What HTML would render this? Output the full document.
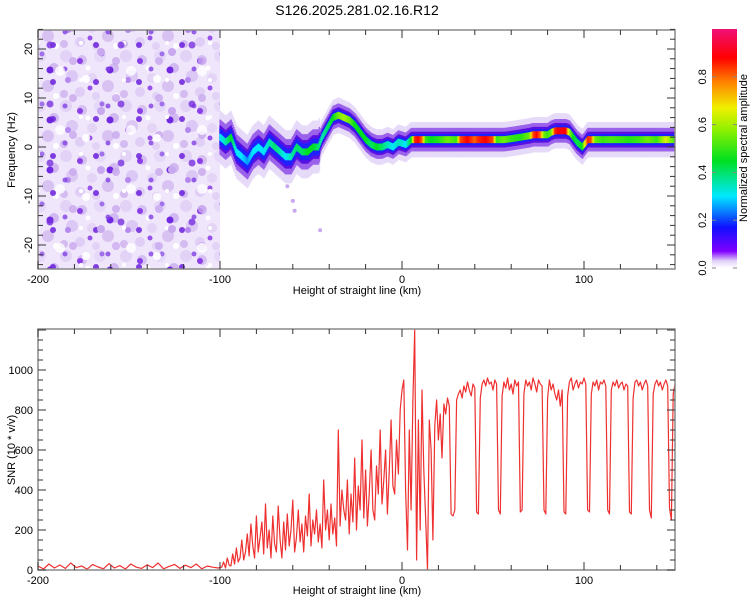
<!DOCTYPE html>
<html><head><meta charset="utf-8"><style>
body{margin:0;background:#fff;}
svg{display:block;font-family:"Liberation Sans",sans-serif;}
</style></head><body>
<svg id="chart" width="750" height="600" viewBox="0 0 750 600">
<defs>
<pattern id="n1" width="60" height="50" patternUnits="userSpaceOnUse">
<rect width="60" height="50" fill="#f0e6fb"/>
<circle cx="6" cy="6" r="6" fill="#e2d2f6"/><circle cx="22" cy="10" r="5" fill="#d6c0f2"/>
<circle cx="40" cy="6" r="6" fill="#e6d8f8"/><circle cx="54" cy="18" r="5" fill="#d2b8f0"/>
<circle cx="12" cy="26" r="6" fill="#dcc8f4"/><circle cx="32" cy="28" r="5" fill="#e4d4f6"/>
<circle cx="48" cy="36" r="6" fill="#d8c2f2"/><circle cx="20" cy="42" r="5" fill="#e0cef6"/>
<circle cx="4" cy="44" r="4" fill="#d4bcf0"/><circle cx="36" cy="46" r="4" fill="#e2d2f6"/>
<circle cx="20" cy="11" r="3" fill="#8a40e6"/><circle cx="50" cy="20" r="3.5" fill="#7028e0"/>
<circle cx="30" cy="38" r="2.5" fill="#9654e8"/><circle cx="8" cy="30" r="3" fill="#b488ee"/>
<circle cx="42" cy="4" r="2.5" fill="#a070ea"/>
<circle cx="28" cy="18" r="2.5" fill="#fff"/><circle cx="56" cy="46" r="3" fill="#fff"/>
</pattern>
<pattern id="n2" width="43" height="37" patternUnits="userSpaceOnUse">
<circle cx="10" cy="8" r="3" fill="#6a20dc" opacity="0.85"/><circle cx="30" cy="24" r="4" fill="#c8a8ee" opacity="0.8"/>
<circle cx="22" cy="32" r="2.5" fill="#8040e4" opacity="0.8"/><circle cx="38" cy="6" r="2" fill="#fff"/>
</pattern>
<pattern id="n3" width="71" height="59" patternUnits="userSpaceOnUse">
<circle cx="15" cy="20" r="4" fill="#fff" opacity="0.9"/><circle cx="50" cy="45" r="3.5" fill="#7830e0" opacity="0.8"/>
<circle cx="60" cy="12" r="5" fill="#fff" opacity="0.8"/><circle cx="30" cy="52" r="4" fill="#c8a8ee"/>
</pattern>
<linearGradient id="cbar" x1="0" y1="1" x2="0" y2="0">
<stop offset="0" stop-color="#ffffff"/><stop offset="0.03" stop-color="#e0d0f8"/>
<stop offset="0.07" stop-color="#8000ff"/><stop offset="0.17" stop-color="#1010ff"/>
<stop offset="0.3" stop-color="#00e8ff"/><stop offset="0.45" stop-color="#00e020"/>
<stop offset="0.58" stop-color="#90f000"/><stop offset="0.67" stop-color="#f0f000"/>
<stop offset="0.78" stop-color="#ff8000"/><stop offset="0.88" stop-color="#ff0000"/>
<stop offset="1" stop-color="#f01078"/>
</linearGradient>
<clipPath id="topclip"><rect x="38" y="30" width="637" height="239"/></clipPath>
<clipPath id="botclip"><rect x="38" y="329" width="637" height="241"/></clipPath>
</defs>
<text x="357" y="15" text-anchor="middle" font-size="14" fill="#000">S126.2025.281.02.16.R12</text>
<g id="topPanel"></g>
<g id="cb"></g>
<g id="botPanel"></g>
</svg>
<script>
// ---- data ----
const ridgeKm   = [-100,-97,-94,-91,-88,-85,-82,-79,-76,-73,-70,-67,-64,-61,-58,-55,-52,-49,-46,-44,-41,-38,-35,-32,-29,-26,-23,-20,-17,-14,-11,-8,-5,-2,2,5,7,9,11,13,16,20,25,30,32,36,40,42,46,50,52,56,60,65,70,72,74,76,78,80,82,84,87,90,92,94,96,99,100,102,104,106,110,115,120,125,130,135,140,145,150];
const ridgeHz   = [2,1,2,-1,-2,-3,-1,0,-1,1,0,-1,-2,-2,0,-1,-1,0,0,2,4,6,6.5,6,5.5,4.5,3,1.5,0.5,0,0,0.5,0,1,0.5,1.5,1.5,1.5,1.5,1.5,1.5,1.5,1.5,1.5,1.5,1.5,1.5,1.5,1.5,1.5,1.5,1.5,1.7,2,2.3,2.5,2.5,2.5,2.5,2.5,3,3.3,3.3,3.3,3,2,1,0,0.5,1.5,1.5,1.5,1.5,1.5,1.5,1.5,1.5,1.5,1.5,1.5,1.5];
const ridgeAmp  = [0.3,0.35,0.45,0.3,0.3,0.25,0.3,0.3,0.3,0.35,0.4,0.35,0.3,0.35,0.4,0.4,0.45,0.45,0.4,0.35,0.4,0.45,0.55,0.6,0.55,0.45,0.45,0.45,0.4,0.45,0.4,0.35,0.3,0.35,0.3,0.45,0.85,0.88,0.8,0.5,0.45,0.48,0.55,0.5,0.82,0.88,0.8,0.85,0.88,0.82,0.5,0.55,0.5,0.48,0.55,0.82,0.88,0.8,0.55,0.5,0.55,0.85,0.9,0.88,0.6,0.45,0.42,0.45,0.6,0.85,0.82,0.55,0.5,0.52,0.5,0.48,0.5,0.55,0.5,0.65,0.5];
const spotKm = [-60,-59,-45,-63];
const spotHz = [-11,-13,-17,-8];
const snrKm = [-200,-197,-194,-191,-188,-185,-182,-179,-176,-173,-170,-167,-164,-161,-158,-155,-152,-149,-146,-143,-140,-137,-134,-131,-128,-125,-122,-119,-116,-113,-110,-107,-104,-101,
-99,-98,-97,-96,-95,-94,-93,-92,-91,-90,-89,-88,-87,-86,-85,-84,-83,-82,-81,-80,-79,-78,-77,-76,-75,-74,-73,-72,-71,-70,-69,-68,-67,-66,-65,-64,-63,-62,-61,-60,-59,-58,-57,-56,-55,-54,-53,-52,-51,-50,-49,-48,-47,-46,-45,-44,-43,-42,-41,-40,-39,-38,-37,-36,-35,-34,-33,-32,-31,-30,-29,-28,-27,-26,-25,-24,-23,-22,-21,-20,-19,-18,-17,-16,-15,-14,-13,-12,-11,-10,-9,-8,-7,-6,-5,-4,-3,-2,-1,0,1,2,3,4,5,6,7,8,9,10,11,12,13,14,15,16,17,18,19,20,21,
22,23,24,25,26,27,28,29,30,31,32,33,34,35,36,37,38,39,40,41,42,43,44,45,46,47,48,49,50,51,52,53,54,55,56,57,58,59,60,61,62,63,64,65,66,67,68,69,70,71,72,73,74,75,76,77,78,79,80,81,82,83,84,85,86,87,88,89,90,91,92,93,94,95,96,97,98,99,100,101,102,103,104,105,106,107,108,109,110,111,112,113,114,115,116,117,118,119,120,121,122,123,124,125,126,127,128,129,130,131,132,133,134,135,136,137,138,139,140,141,142,143,144,145,146,147,148,149,150];
const snrVal = [20,5,30,10,25,8,35,12,20,4,28,15,6,32,10,22,5,30,14,8,26,12,35,6,18,28,8,24,12,30,6,20,14,10,
15,40,10,60,25,20,80,30,110,40,60,150,50,90,180,70,230,120,60,270,90,160,240,80,330,110,200,60,270,130,90,320,150,60,240,100,280,120,200,350,90,160,300,140,230,90,270,170,380,120,250,180,300,140,230,110,450,200,300,150,330,180,260,120,700,220,400,300,250,450,180,380,240,560,200,420,300,650,260,500,220,380,600,300,250,520,380,700,330,450,600,280,500,750,420,380,650,480,800,900,950,400,100,700,300,850,1200,50,750,200,900,500,250,0,750,600,150,720,850,650,780,560,
830,780,860,820,280,270,300,850,880,900,860,920,890,940,900,870,930,910,290,280,860,930,950,920,960,930,940,900,950,930,300,280,870,940,910,960,900,930,880,950,920,940,290,300,880,950,920,940,900,960,930,890,950,930,920,300,280,860,950,900,930,880,850,900,820,900,290,280,870,940,960,900,930,950,910,940,930,960,930,300,290,880,940,920,950,900,940,930,950,920,300,280,900,940,920,950,910,930,940,900,930,920,290,280,860,940,950,920,940,900,930,950,920,300,260,880,930,950,920,940,900,930,950,920,310,250,880,930,950];
const xTicks = [-200,-100,0,100];
const hzTicks = [-20,-10,0,10,20];
const snrTicks = [0,200,400,600,800,1000];
const cbTicks = [0,0.2,0.4,0.6,0.8];

const NS='http://www.w3.org/2000/svg';
function mk(tag, attrs, parent){const e=document.createElementNS(NS,tag);for(const k in attrs)e.setAttribute(k,attrs[k]);parent.appendChild(e);return e;}
const X0=38,X1=675;
const xs = km => X0 + (km+200)/350*(X1-X0);
const ysTop = hz => 147 - hz*4.9;
const ysBot = v => 570 - v*0.2;

function cmap(a){
  const st=[[0,[255,255,255]],[0.03,[224,208,248]],[0.07,[128,0,255]],[0.17,[16,16,255]],[0.3,[0,232,255]],[0.45,[0,224,32]],[0.58,[144,240,0]],[0.67,[240,240,0]],[0.78,[255,128,0]],[0.88,[255,0,0]],[1,[240,16,120]]];
  for(let i=1;i<st.length;i++){if(a<=st[i][0]){const t=(a-st[i-1][0])/(st[i][0]-st[i-1][0]);const c=st[i-1][1].map((v,j)=>Math.round(v+(st[i][1][j]-v)*t));return 'rgb('+c.join(',')+')';}}
  return 'rgb(240,16,120)';
}
function interp(arrX, arrY, x){
  for(let i=1;i<arrX.length;i++){if(x<=arrX[i]){const t=(x-arrX[i-1])/(arrX[i]-arrX[i-1]);return arrY[i-1]+(arrY[i]-arrY[i-1])*t;}}
  return arrY[arrY.length-1];
}

function frame(g, y0, y1, xlabY, titleY){
  mk('rect',{x:X0,y:y0,width:X1-X0,height:y1-y0,fill:'none',stroke:'#888','stroke-width':1.5},g);
  for(let km=-200;km<=150;km+=20){
    const major = xTicks.includes(km); const L = major?8:5;
    mk('line',{x1:xs(km),x2:xs(km),y1:y1,y2:y1-L,stroke:'#333'},g);
    mk('line',{x1:xs(km),x2:xs(km),y1:y0,y2:y0+L,stroke:'#333'},g);
  }
  xTicks.forEach(km=>{
    const t=mk('text',{x:xs(km),y:xlabY,'text-anchor':'middle','font-size':11},g);
    
    
    t.textContent=km;
  });
  const tt=mk('text',{x:357,y:titleY,'text-anchor':'middle','font-size':11},g);
  
  
  tt.textContent='Height of straight line (km)';
}

// ---- top spectrogram ----
const topG=document.getElementById('topPanel');
const tg=mk('g',{'clip-path':'url(#topclip)'},topG);
mk('rect',{x:X0,y:30,width:xs(-100)-X0,height:239,fill:'url(#n1)'},tg);
mk('rect',{x:X0,y:30,width:xs(-100)-X0,height:239,fill:'url(#n2)'},tg);
mk('rect',{x:X0,y:30,width:xs(-100)-X0,height:239,fill:'url(#n3)'},tg);
const layers=[[3.6,'#e6d8f8',0.9],[2.4,'#9a60ea',0.95],[1.6,'#5a10e0',1],[1.15,'#2020ff',1]];
layers.forEach(([hw,col,op])=>{
  for(let km=-100;km<=150;km+=0.5){
    const hz=interp(ridgeKm,ridgeHz,km);
    const w=(km<-45)?hw*1.5:hw;
    mk('rect',{x:xs(km)-0.6,y:ysTop(hz+w),width:1.6,height:w*2*4.9,fill:col,opacity:op},tg);
  }
});
for(let km=-100;km<=150;km+=0.5){
  const hz=interp(ridgeKm,ridgeHz,km), a=interp(ridgeKm,ridgeAmp,km);
  const r=mk('rect',{x:xs(km)-0.6,y:ysTop(hz+0.7),width:1.6,height:1.4*4.9,fill:cmap(a)},tg);
  
  
}
spotKm.forEach((km,i)=>{
  const c=mk('circle',{cx:xs(km),cy:ysTop(spotHz[i]),r:2,fill:'#c8a8ee'},tg);
  
  
});
frame(topG,30,269,283,294);
for(let hz=-24;hz<=24;hz+=2){
  const L=(hz%10===0)?8:5;
  mk('line',{x1:X0,x2:X0+L,y1:ysTop(hz),y2:ysTop(hz),stroke:'#333'},topG);
  mk('line',{x1:X1,x2:X1-L,y1:ysTop(hz),y2:ysTop(hz),stroke:'#333'},topG);
}
hzTicks.forEach(hz=>{
  const t=mk('text',{x:0,y:0,'text-anchor':'middle','font-size':11,transform:`translate(32,${ysTop(hz)}) rotate(-90)`},topG);
  
  
  t.textContent=hz;
});
const yt=mk('text',{x:0,y:0,'text-anchor':'middle','font-size':11,transform:'translate(15,150) rotate(-90)'},topG);


yt.textContent='Frequency (Hz)';

// ---- colorbar ----
const cb=document.getElementById('cb');
mk('rect',{x:712,y:29,width:25,height:239,fill:'url(#cbar)'},cb);
cbTicks.forEach(v=>{
  const y=268-v*239;
  mk('line',{x1:712,x2:716,y1:y,y2:y,stroke:'#888'},cb);
  mk('line',{x1:737,x2:733,y1:y,y2:y,stroke:'#888'},cb);
  const t=mk('text',{x:0,y:0,'text-anchor':'middle','font-size':11,transform:`translate(706,${y}) rotate(-90)`},cb);
  
  
  t.textContent=v.toFixed(1);
});
const ct=mk('text',{x:0,y:0,'text-anchor':'middle','font-size':11,transform:'translate(747,148) rotate(-90)'},cb);


ct.textContent='Normalized spectral amplitude';

// ---- bottom SNR ----
const botG=document.getElementById('botPanel');
const bg=mk('g',{'clip-path':'url(#botclip)'},botG);
let d='';
snrKm.forEach((km,i)=>{d+=(i?'L':'M')+xs(km).toFixed(1)+','+ysBot(snrVal[i]).toFixed(1);});
const line=mk('path',{d:d,fill:'none',stroke:'#ee3030','stroke-width':1.2,'stroke-linejoin':'round'},bg);


frame(botG,329,570,584,594);
for(let v=0;v<=1200;v+=50){
  const L=(v%200===0)?8:5;
  mk('line',{x1:X0,x2:X0+L,y1:ysBot(v),y2:ysBot(v),stroke:'#333'},botG);
  mk('line',{x1:X1,x2:X1-L,y1:ysBot(v),y2:ysBot(v),stroke:'#333'},botG);
}
snrTicks.forEach(v=>{
  const t=mk('text',{x:33,y:ysBot(v)+4,'text-anchor':'end','font-size':11},botG);
  
  
  t.textContent=v;
});
const yt2=mk('text',{x:0,y:0,'text-anchor':'middle','font-size':11,transform:'translate(15,450) rotate(-90)'},botG);


yt2.textContent='SNR (10 * v/v)';
</script>
</body></html>
